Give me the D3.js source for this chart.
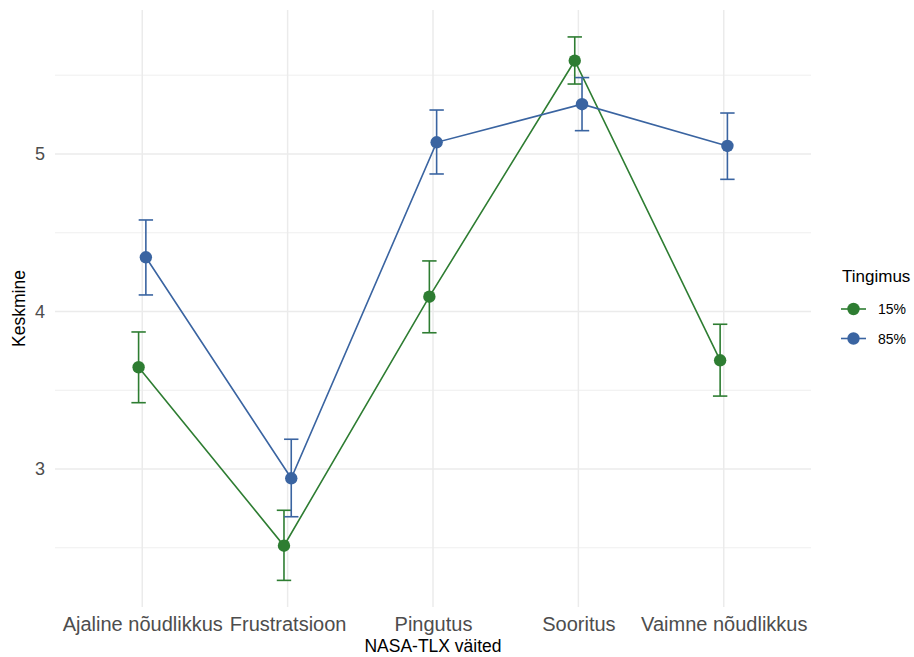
<!DOCTYPE html>
<html>
<head>
<meta charset="utf-8">
<script src="https://cdn.jsdelivr.net/npm/d3@7"></script>
<style>
  html, body { margin: 0; padding: 0; background: #fff; }
  svg { display: block; font-family: "Liberation Sans", Arial, Helvetica, sans-serif; }
</style>
</head>
<body>
<svg id="chart" width="914" height="657"></svg>
<script>
// ---- data ----
const categories = ["Ajaline nõudlikkus", "Frustratsioon", "Pingutus", "Sooritus", "Vaimne nõudlikkus"];
const groups = ["15%", "85%"];
const colors = ["#2e7d32", "#3a64a1"];
const mean15 = [3.646, 2.513, 4.094, 5.592, 3.690];
const low15  = [3.421, 2.293, 3.865, 5.444, 3.463];
const high15 = [3.870, 2.738, 4.321, 5.743, 3.919];
const mean85 = [4.344, 2.941, 5.074, 5.316, 5.051];
const low85  = [4.105, 2.697, 4.873, 5.148, 4.839];
const high85 = [4.581, 3.189, 5.279, 5.485, 5.260];
const yTicks = [3, 4, 5];
const yMinorTicks = [2.5, 3.5, 4.5, 5.5];
const xTitle = "NASA-TLX väited";
const yTitle = "Keskmine";
const legendTitle = "Tingimus";

const series = [
  { name: groups[0], color: colors[0], mean: mean15, low: low15, high: high15 },
  { name: groups[1], color: colors[1], mean: mean85, low: low85, high: high85 }
];

// ---- layout ----
const svg = d3.select("#chart");
const panel = { left: 55, right: 811, top: 10, bottom: 607 };

const x = d3.scalePoint().domain(categories)
  .range([panel.left, panel.right]).padding(0.6);
const step = x.step();
const dodge = d3.scalePoint().domain(groups).range([-0.025 * step, 0.025 * step]);

const y = d3.scaleLinear().domain([2.124, 5.914]).range([panel.bottom, panel.top]);

const g = svg.append("g");

// grid
g.append("g").selectAll("line").data(yMinorTicks).join("line")
  .attr("x1", panel.left).attr("x2", panel.right)
  .attr("y1", d => y(d)).attr("y2", d => y(d))
  .attr("stroke", "#ebebeb").attr("stroke-width", 0.8);
g.append("g").selectAll("line").data(yTicks).join("line")
  .attr("x1", panel.left).attr("x2", panel.right)
  .attr("y1", d => y(d)).attr("y2", d => y(d))
  .attr("stroke", "#ebebeb").attr("stroke-width", 1.5);
g.append("g").selectAll("line").data(categories).join("line")
  .attr("x1", d => x(d)).attr("x2", d => x(d))
  .attr("y1", panel.top).attr("y2", panel.bottom)
  .attr("stroke", "#ebebeb").attr("stroke-width", 1.5);

// axes (text only, like theme_minimal)
const yAxis = d3.axisLeft(y).tickValues(yTicks).tickSize(0).tickPadding(10).tickFormat(d3.format("d"));
const ya = svg.append("g").attr("transform", `translate(${panel.left},0)`).call(yAxis);
ya.select(".domain").remove();
ya.selectAll("text").attr("font-size", 18).attr("fill", "#4d4d4d")
  .attr("font-family", "Liberation Sans, Arial, sans-serif");

const xAxis = d3.axisBottom(x).tickSize(0).tickPadding(10);
const xa = svg.append("g").attr("transform", `translate(0,${panel.bottom})`).call(xAxis);
xa.select(".domain").remove();
xa.selectAll("text").attr("font-size", 20).attr("fill", "#4d4d4d")
  .attr("font-family", "Liberation Sans, Arial, sans-serif");

// titles
svg.append("text").attr("x", (panel.left + panel.right) / 2).attr("y", 652)
  .attr("text-anchor", "middle").attr("font-size", 17.5).attr("fill", "#000").text(xTitle);
svg.append("text").attr("transform", `translate(25,${(panel.top + panel.bottom) / 2}) rotate(-90)`)
  .attr("text-anchor", "middle").attr("font-size", 17.5).attr("fill", "#000").text(yTitle);

// lines
const line = d3.line().x(d => d.x).y(d => d.y);
series.forEach(s => {
  const pts = categories.map((c, i) => ({ x: x(c) + dodge(s.name), y: y(s.mean[i]) }));
  g.append("path").datum(pts).attr("d", line)
    .attr("fill", "none").attr("stroke", s.color).attr("stroke-width", 1.6);
});

// error bars
const capHalf = 7.2;
series.forEach(s => {
  const eg = g.append("g").attr("stroke", s.color).attr("stroke-width", 1.6).attr("fill", "none");
  categories.forEach((c, i) => {
    const cx = x(c) + dodge(s.name);
    eg.append("line").attr("x1", cx).attr("x2", cx).attr("y1", y(s.low[i])).attr("y2", y(s.high[i]));
    eg.append("line").attr("x1", cx - capHalf).attr("x2", cx + capHalf).attr("y1", y(s.low[i])).attr("y2", y(s.low[i]));
    eg.append("line").attr("x1", cx - capHalf).attr("x2", cx + capHalf).attr("y1", y(s.high[i])).attr("y2", y(s.high[i]));
  });
});

// points
series.forEach(s => {
  g.append("g").selectAll("circle").data(categories).join("circle")
    .attr("cx", c => x(c) + dodge(s.name))
    .attr("cy", (c, i) => y(s.mean[i]))
    .attr("r", 6.2).attr("fill", s.color);
});

// legend
const lg = svg.append("g");
lg.append("text").attr("x", 842).attr("y", 282).attr("font-size", 17).attr("fill", "#000").text(legendTitle);
series.forEach((s, i) => {
  const cy = 309 + i * 29.5;
  lg.append("line").attr("x1", 841).attr("x2", 866).attr("y1", cy).attr("y2", cy)
    .attr("stroke", s.color).attr("stroke-width", 1.6);
  lg.append("circle").attr("cx", 853.5).attr("cy", cy).attr("r", 6.2).attr("fill", s.color);
  lg.append("text").attr("x", 878).attr("y", cy).attr("dy", "0.36em")
    .attr("font-size", 14).attr("fill", "#000").text(s.name);
});
</script>
</body>
</html>
